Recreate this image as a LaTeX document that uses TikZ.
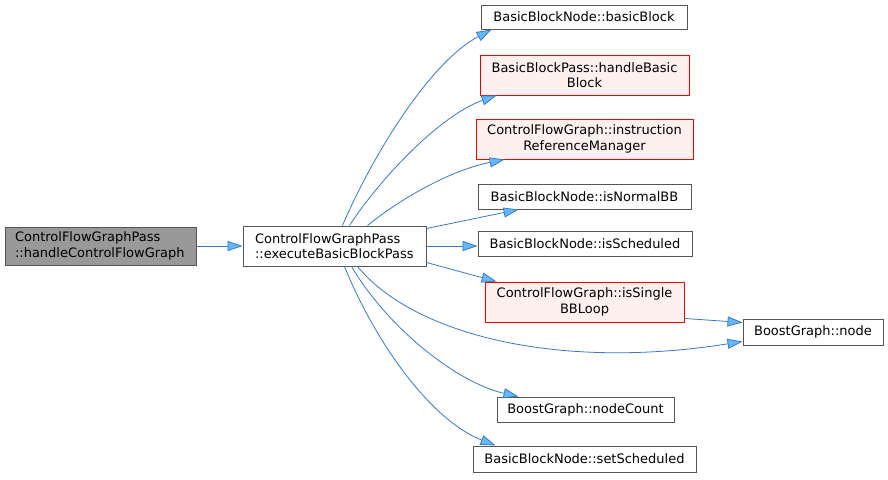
\documentclass[tikz,border=0pt]{standalone}
\usepackage{fontspec}
\setmainfont{DejaVu Sans}
\usetikzlibrary{arrows.meta}
\definecolor{edgecol}{HTML}{3A78C0}
\definecolor{tipcol}{HTML}{63B8FF}
\definecolor{nodeborder}{HTML}{555555}
\definecolor{rootfill}{HTML}{999999}
\definecolor{redfill}{HTML}{FFF0F0}
\tikzset{
  base/.style={draw=nodeborder, line width=1pt, inner sep=0pt, font=\fontsize{13}{15.5}\selectfont, text=black},
  plainbox/.style={base, fill=white, align=center},
  redbox/.style={base, draw=red!95!black, line width=0.9pt, fill=redfill, align=center},
  rootbox/.style={base, fill=rootfill, align=left},
  edge/.style={draw=edgecol, line width=0.8pt, -{Triangle[length=15pt,width=10pt,fill=tipcol]}},
}
\begin{document}
\begin{tikzpicture}[x=1pt,y=-1pt]
\useasboundingbox (0,0) rectangle (888,479);
% nodes
\node[rootbox, minimum width=191pt, minimum height=38pt, text width=171pt] (root) at (100.5,246) {ControlFlowGraphPass\\::handleControlFlowGraph};
\node[plainbox, align=left, minimum width=183pt, minimum height=40pt, text width=159pt] (exec) at (334.5,246) {ControlFlowGraphPass\\::executeBasicBlockPass};
\node[plainbox, minimum width=206pt, minimum height=24pt] (bb) at (584,17) {BasicBlockNode::basicBlock};
\node[redbox, minimum width=209pt, minimum height=40pt] (hbb) at (584.5,75) {BasicBlockPass::handleBasic\\Block};
\node[redbox, minimum width=217pt, minimum height=40pt] (irm) at (584.5,139) {ControlFlowGraph::instruction\\ReferenceManager};
\node[plainbox, minimum width=213pt, minimum height=25pt] (nbb) at (584.5,196.5) {BasicBlockNode::isNormalBB};
\node[plainbox, minimum width=214pt, minimum height=25pt] (isch) at (585,243.5) {BasicBlockNode::isScheduled};
\node[redbox, minimum width=199pt, minimum height=40pt] (ssl) at (584.5,302) {ControlFlowGraph::isSingle\\BBLoop};
\node[plainbox, minimum width=140pt, minimum height=26pt] (bgn) at (813,332) {BoostGraph::node};
\node[plainbox, minimum width=177pt, minimum height=25pt] (nc) at (585.5,409.5) {BoostGraph::nodeCount};
\node[plainbox, minimum width=223pt, minimum height=26pt] (ss) at (584.5,459) {BasicBlockNode::setScheduled};
% edges
\draw[edge] (root.east) -- (exec.west);
\draw[edge] ([xshift=100pt]exec.north west) .. controls +(30,-70) and +(-62,33) .. ([xshift=11pt]bb.south west);
\draw[edge] ([xshift=107pt]exec.north west) .. controls +(30,-46) and +(-57,20) .. ([xshift=17pt]hbb.south west);
\draw[edge] ([xshift=125pt]exec.north west) .. controls +(32,-26) and +(-55,11) .. ([xshift=29pt]irm.south west);
\draw[edge] ([yshift=-3pt]exec.north east) -- ([xshift=41pt]nbb.south west);
\draw[edge] (exec.east) -- (exec.east -| isch.west);
\draw[edge] ([yshift=4pt]exec.south east) -- ([xshift=12pt]ssl.north west);
\draw[edge] ([yshift=4pt]ssl.south east) -- ([yshift=-4pt]bgn.north west);
\draw[edge] ([xshift=115pt]exec.south west) .. controls +(57,69) and +(-183,29) .. ([yshift=4pt]bgn.south west);
\draw[edge] ([xshift=109pt]exec.south west) .. controls +(38,64) and +(-59,-13) .. ([xshift=22pt]nc.north west);
\draw[edge] ([xshift=102pt]exec.south west) .. controls +(30,74) and +(-66,-26) .. ([xshift=23pt]ss.north west);
\end{tikzpicture}
\end{document}
